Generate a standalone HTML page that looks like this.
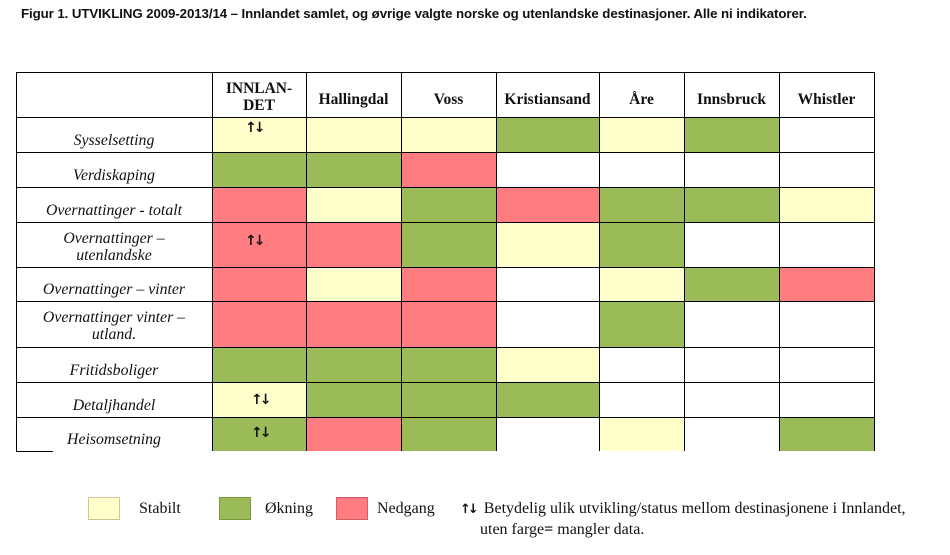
<!DOCTYPE html>
<html><head><meta charset="utf-8"><style>
body{margin:0;width:950px;height:555px;background:#fff;position:relative;overflow:hidden;font-family:"Liberation Serif",serif;}
.t{position:absolute;left:21px;top:6px;font-family:"Liberation Sans",sans-serif;font-weight:bold;font-size:13.3px;color:#111;letter-spacing:-0.1px;}
.c{position:absolute;box-sizing:border-box;}
.Y{background:#ffffcc}.G{background:#9bbb59}.R{background:#ff7c80}.W{background:#fff}
.lbl{position:absolute;font-style:italic;font-size:15.8px;text-align:center;color:#111;line-height:17px;}
.h{position:absolute;font-weight:bold;font-size:15.5px;text-align:center;color:#111;line-height:17px;}
.ar{position:absolute;font-size:14px;font-weight:bold;color:#111;letter-spacing:-3px;font-family:"DejaVu Sans",sans-serif;}
.ln{position:absolute;background:#000;}
.lg{position:absolute;font-size:16px;color:#111;}
</style></head><body>
<div class="t">Figur 1. UTVIKLING 2009-2013/14 – Innlandet samlet, og øvrige valgte norske og utenlandske destinasjoner. Alle ni indikatorer.</div>
<div id="g"></div>
<script>
const xs=[16,212,306,401,496,599,684,779,874];
const ys=[72,117,152,187,222,267,301,347,382,417,451];
const rows=[["Sysselsetting","YYYGYGW"],["Verdiskaping","GGRWWWW"],["Overnattinger - totalt","RYGRGGY"],["Overnattinger –<br>utenlandske","RRGYGWW"],["Overnattinger – vinter","RYRWYGR"],["Overnattinger vinter –<br>utland.","RRRWGWW"],["Fritidsboliger","GGGYWWW"],["Detaljhandel","YGGGWWW"],["Heisomsetning","GRGWYWG"]];
const heads=["INNLAN-<br>DET","Hallingdal","Voss","Kristiansand","Åre","Innsbruck","Whistler"];
let h="";
rows.forEach((r,i)=>{for(let j=0;j<7;j++){h+=`<div class="c ${r[1][j]}" style="left:${xs[j+1]}px;top:${ys[i+1]}px;width:${xs[j+2]-xs[j+1]}px;height:${ys[i+2]-ys[i+1]}px"></div>`;}
 const two=r[0].includes("<br>");
 h+=`<div class="lbl" style="left:${xs[0]}px;width:${xs[1]-xs[0]}px;top:${two?ys[i+1]+8:ys[i+2]-20}px">${r[0]}</div>`;});
heads.forEach((t,j)=>{const two=t.includes("<br>");h+=`<div class="h" style="left:${xs[j+1]}px;width:${xs[j+2]-xs[j+1]}px;top:${two?80:91}px">${t}</div>`;});
for(let i=0;i<xs.length;i++){h+=`<div class="ln" style="left:${xs[i]}px;top:72px;width:1px;height:379px"></div>`;}
for(let i=0;i<ys.length-1;i++){h+=`<div class="ln" style="left:16px;top:${ys[i]}px;width:859px;height:1px"></div>`;}
h+=`<div class="ln" style="left:16px;top:451px;width:37px;height:1px"></div>`;
[[1,120],[4,233],[8,392],[9,425]].forEach(a=>{h+=`<div class="ar" style="left:${a[0]==1||a[0]==4?245:251}px;top:${a[1]}px">↑↓</div>`});
document.getElementById("g").innerHTML=h;
</script>
<div class="c Y" style="left:88px;top:497px;width:32px;height:23px;border:1px solid #c8c890"></div>
<div class="lg" style="left:139px;top:500px">Stabilt</div>
<div class="c G" style="left:219px;top:497px;width:32px;height:23px;border:1px solid #7a9a40"></div>
<div class="lg" style="left:265px;top:500px">Økning</div>
<div class="c R" style="left:336px;top:497px;width:32px;height:23px;border:1px solid #d06068"></div>
<div class="lg" style="left:377px;top:500px">Nedgang</div>
<div class="lg" style="left:460px;top:500px"><b style="font-size:13px;font-family:'DejaVu Sans',sans-serif;letter-spacing:-3px">↑↓</b>&nbsp; Betydelig ulik utvikling/status mellom destinasjonene i Innlandet,</div>
<div class="lg" style="left:480px;top:521px">uten farge<b>=</b> mangler data.</div>
</body></html>
